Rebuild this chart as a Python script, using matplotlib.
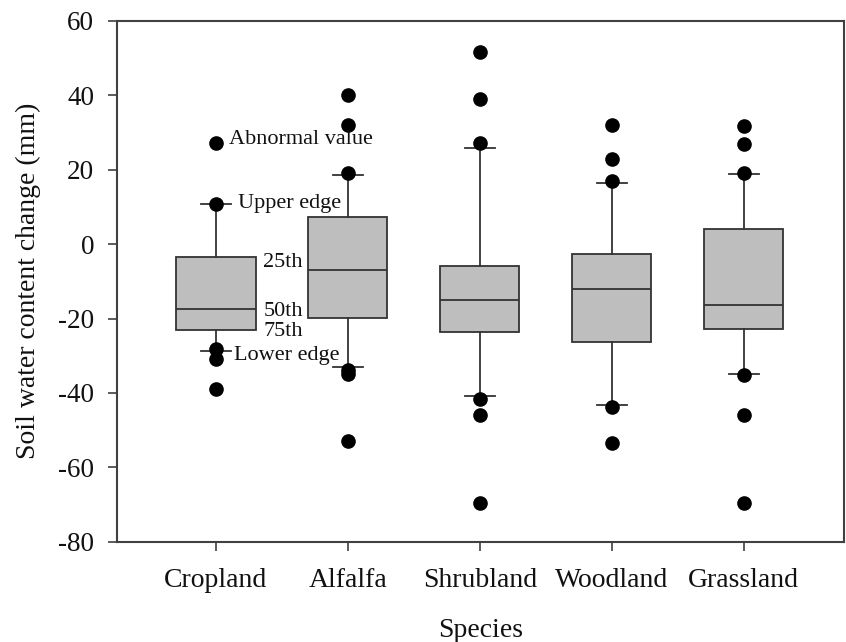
import matplotlib
matplotlib.use("Agg")
import matplotlib.pyplot as plt

plt.rcParams["font.family"] = ["Liberation Serif", "DejaVu Serif"]

# ---- data ----
species = ["Cropland", "Alfalfa", "Shrubland", "Woodland", "Grassland"]
q1 = [-23.1, -19.8, -23.6, -26.2, -22.8]
medians = [-17.5, -7.0, -15.0, -12.0, -16.4]
q3 = [-3.5, 7.2, -6.0, -2.7, 4.0]
whisk_lo = [-28.6, -33.0, -40.8, -43.3, -34.9]
whisk_hi = [10.8, 18.4, 25.8, 16.5, 18.9]
fliers = [
    [27.1, 10.8, -28.3, -30.8, -38.8],
    [40.0, 31.9, 19.1, -33.7, -34.8, -52.8],
    [51.5, 39.0, 27.1, -41.7, -45.9, -69.6],
    [32.0, 22.8, 16.9, -43.8, -53.4],
    [31.6, 26.9, 19.1, -35.3, -46.0, -69.6],
]
yticks = [-80, -60, -40, -20, 0, 20, 40, 60]

# legend-like labels drawn next to the first box
notes = ["Abnormal value", "Upper edge", "25th", "50th", "75th", "Lower edge"]
note_x = [1.10, 1.17, 1.36, 1.36, 1.36, 1.14]
note_y = [28.0, 10.9, -4.9, -18.2, -23.6, -29.8]

DARK = "#333333"
FILL = "#BEBEBE"

fig = plt.figure(figsize=(8.46, 6.42), dpi=100)
ax = fig.add_axes([0.1383, 0.1558, 0.8593, 0.8122])

stats = []
for i, name in enumerate(species):
    stats.append(dict(label=name, q1=q1[i], med=medians[i], q3=q3[i],
                      whislo=whisk_lo[i], whishi=whisk_hi[i], fliers=fliers[i]))

ax.bxp(stats, positions=range(1, len(species) + 1), widths=0.6, capwidths=0.23,
       patch_artist=True, showfliers=True,
       boxprops=dict(facecolor=FILL, edgecolor=DARK, linewidth=1.3),
       medianprops=dict(color=DARK, linewidth=1.3),
       whiskerprops=dict(color=DARK, linewidth=1.3),
       capprops=dict(color=DARK, linewidth=1.3),
       flierprops=dict(marker="o", markerfacecolor="black", markeredgecolor="black",
                       markersize=9.5, linestyle="none"))

for txt, x, y in zip(notes, note_x, note_y):
    ax.text(x, y, txt, ha="left", va="center", fontsize=16, color="#111111")

ax.set_xlim(0.25, 5.76)
ax.set_ylim(-80, 60)
ax.set_yticks(yticks)
ax.set_yticklabels([str(t) for t in yticks])
ax.set_xticks(range(1, len(species) + 1))
ax.set_xticklabels(species)

for sp in ax.spines.values():
    sp.set_color("#404040")
    sp.set_linewidth(1.5)
ax.tick_params(axis="both", direction="out", length=6.5, width=1.2, color="#404040",
               labelsize=19.5, labelcolor="#111111", pad=10)
ax.tick_params(axis="x", pad=12, labelsize=20)

ax.set_xlabel("Species", fontsize=20, color="#111111", labelpad=18)
ax.set_ylabel("Soil water content change (mm)", fontsize=20, color="#111111", labelpad=12)

fig.savefig("out.png", dpi=100, facecolor="white")
